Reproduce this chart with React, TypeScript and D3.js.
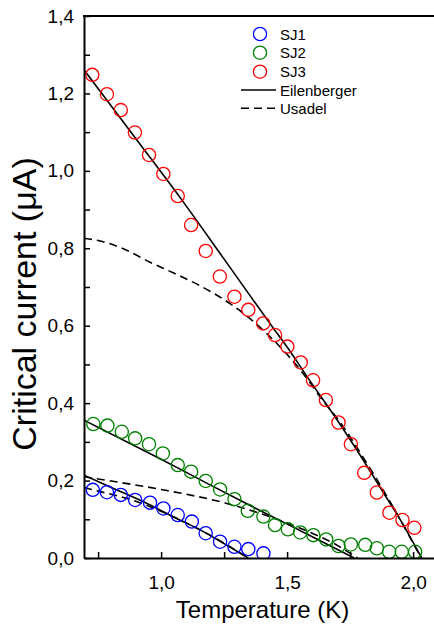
import React, { useRef, useEffect } from "react";
import * as d3 from "d3";

// measured points: [temperature (K), critical current (uA)]
const sj1 = [
  [0.729, 0.176], [0.785, 0.170], [0.840, 0.163], [0.897, 0.150], [0.956, 0.143],
  [1.009, 0.128], [1.066, 0.111], [1.122, 0.094], [1.177, 0.064], [1.234, 0.042],
  [1.291, 0.029], [1.346, 0.023], [1.406, 0.012],
];
const sj2 = [
  [0.731, 0.346], [0.787, 0.342], [0.844, 0.326], [0.897, 0.309], [0.952, 0.294],
  [1.007, 0.270], [1.066, 0.240], [1.119, 0.223], [1.177, 0.199], [1.234, 0.177],
  [1.291, 0.152], [1.344, 0.122], [1.406, 0.107], [1.452, 0.085], [1.503, 0.074],
  [1.552, 0.066], [1.604, 0.059], [1.655, 0.048], [1.704, 0.031], [1.753, 0.035],
  [1.810, 0.034], [1.856, 0.025], [1.905, 0.016], [1.955, 0.016], [2.008, 0.016],
];
const sj3 = [
  [0.670, 1.270], [0.727, 1.248], [0.785, 1.198], [0.840, 1.157], [0.896, 1.099],
  [0.952, 1.041], [1.009, 0.992], [1.066, 0.935], [1.119, 0.860], [1.177, 0.793],
  [1.233, 0.727], [1.291, 0.675], [1.346, 0.641], [1.405, 0.606], [1.452, 0.576],
  [1.501, 0.546], [1.554, 0.505], [1.603, 0.459], [1.654, 0.408], [1.704, 0.350],
  [1.753, 0.294], [1.806, 0.220], [1.856, 0.169], [1.906, 0.117], [1.958, 0.098],
  [2.005, 0.078],
];

// theory curves
const eil1 = [[0.694, 0.214], [0.80, 0.183], [0.956, 0.137], [1.05, 0.106], [1.177, 0.065], [1.25, 0.037], [1.346, 0]];
const eil2 = [[0.694, 0.356], [1.0, 0.255], [1.2, 0.187], [1.4, 0.12], [1.6, 0.055], [1.766, 0]];
const eil3 = [
  [0.694, 1.261], [0.9, 1.083], [1.082, 0.925], [1.25, 0.772], [1.446, 0.593], [1.5, 0.545],
  [1.588, 0.46], [1.7, 0.355], [1.8, 0.255], [1.9, 0.15], [1.95, 0.098], [2.034, 0],
];
const us1 = [[0.694, 0.182], [0.78, 0.168], [0.864, 0.154], [0.95, 0.134], [1.05, 0.106], [1.177, 0.065], [1.346, 0]];
const us2 = [[0.694, 0.210], [0.79, 0.200], [1.0, 0.177], [1.26, 0.141], [1.552, 0.077], [1.684, 0.038], [1.78, 0]];
const us3 = [
  [0.694, 0.826], [0.75, 0.820], [0.85, 0.799], [0.956, 0.764], [1.05, 0.736], [1.155, 0.703],
  [1.287, 0.651], [1.419, 0.58], [1.552, 0.486], [1.65, 0.40], [1.7, 0.36], [1.8, 0.262],
  [1.9, 0.155], [2.032, 0],
];

const yTicks = [0, 0.1, 0.2, 0.3, 0.4, 0.5, 0.6, 0.7, 0.8, 0.9, 1.0, 1.1, 1.2, 1.3, 1.4];
const xTicks = [0.75, 1.0, 1.25, 1.5, 1.75, 2.0];
const xLabels = [1.0, 1.5, 2.0];
const yLabels = [0, 0.2, 0.4, 0.6, 0.8, 1.0, 1.2, 1.4];

const seriesNames = ["SJ1", "SJ2", "SJ3"];
const seriesColors = ["#0000ff", "#008000", "#ff0000"];

const App = () => {
  const ref = useRef(null);

  useEffect(() => {
    const svgWidth = 434;
    const svgHeight = 624;
    const left = 84, top = 16, bottom = 558;
    const font = "'Liberation Sans', Arial, sans-serif";

    const svg = d3.select(ref.current)
      .attr("width", svgWidth)
      .attr("height", svgHeight);
    svg.selectAll("*").remove();

    const xScale = d3.scaleLinear().domain([0.694, 2.1]).range([left, left + 1.406 * 252]);
    const yScale = d3.scaleLinear().domain([0, 1.4]).range([bottom, top]);

    const fmt = (d) => d3.format(".1f")(d).replace(".", ",");

    svg.append("defs").append("clipPath").attr("id", "plotclip")
      .append("rect")
      .attr("x", left).attr("y", top - 2)
      .attr("width", svgWidth - left).attr("height", bottom - top + 2);

    const plot = svg.append("g").attr("clip-path", "url(#plotclip)");

    const line = d3.line()
      .x(d => xScale(d[0]))
      .y(d => yScale(d[1]))
      .curve(d3.curveMonotoneX);

    // Eilenberger (solid)
    [eil1, eil2, eil3].forEach(c => {
      plot.append("path").datum(c)
        .attr("fill", "none").attr("stroke", "#000").attr("stroke-width", 1.6)
        .attr("d", line);
    });
    // Usadel (dashed)
    [us1, us2, us3].forEach(c => {
      plot.append("path").datum(c)
        .attr("fill", "none").attr("stroke", "#000").attr("stroke-width", 1.6)
        .attr("stroke-dasharray", "8 5")
        .attr("d", line);
    });

    // data circles
    [sj1, sj2, sj3].forEach((s, i) => {
      plot.selectAll(".pt" + i).data(s).join("circle")
        .attr("class", "pt" + i)
        .attr("cx", d => xScale(d[0]))
        .attr("cy", d => yScale(d[1]))
        .attr("r", 6.6)
        .attr("fill", "none")
        .attr("stroke", seriesColors[i])
        .attr("stroke-width", 1.3);
    });

    // Y axis
    const yAxis = svg.append("g")
      .attr("transform", `translate(${left},0)`)
      .call(d3.axisLeft(yScale).tickValues(yTicks).tickSizeInner(-6).tickSizeOuter(0).tickPadding(10)
        .tickFormat(d => yLabels.some(v => Math.abs(v - d) < 1e-6) ? fmt(d) : ""));
    yAxis.select(".domain").attr("stroke-width", 2);
    yAxis.selectAll(".tick line").attr("stroke-width", 1.5);
    yAxis.selectAll("text").style("font-family", font).style("font-size", "19px").attr("fill", "#000");

    // X axis
    const xAxis = svg.append("g")
      .attr("transform", `translate(0,${bottom})`)
      .call(d3.axisBottom(xScale).tickValues(xTicks).tickSizeInner(-6).tickSizeOuter(0).tickPadding(18)
        .tickFormat(d => xLabels.some(v => Math.abs(v - d) < 1e-6) ? fmt(d) : ""));
    xAxis.select(".domain").attr("stroke-width", 2);
    xAxis.selectAll(".tick line").attr("stroke-width", 1.5);
    xAxis.selectAll("text").style("font-family", font).style("font-size", "19px").attr("fill", "#000");

    // top frame line
    svg.append("line")
      .attr("x1", left - 1).attr("x2", svgWidth)
      .attr("y1", top).attr("y2", top)
      .attr("stroke", "#000").attr("stroke-width", 2);

    // axis titles
    svg.append("text")
      .attr("x", 262.5).attr("y", 618)
      .attr("text-anchor", "middle")
      .style("font-family", font).style("font-size", "24px")
      .text("Temperature (K)");

    svg.append("text")
      .attr("transform", `translate(36,304) rotate(-90)`)
      .attr("text-anchor", "middle")
      .style("font-family", font).style("font-size", "34px")
      .text("Critical current (\u03BCA)");

    // legend
    const legend = svg.append("g").style("font-family", font).style("font-size", "15px");
    const rows = [34, 52.7, 71.7, 90, 108.3];
    seriesNames.forEach((name, i) => {
      legend.append("circle")
        .attr("cx", 260).attr("cy", rows[i]).attr("r", 6.6)
        .attr("fill", "none").attr("stroke", seriesColors[i]).attr("stroke-width", 1.3);
      legend.append("text").attr("x", 280).attr("y", rows[i] + 5.5).text(name);
    });
    legend.append("line")
      .attr("x1", 241).attr("x2", 276).attr("y1", rows[3]).attr("y2", rows[3])
      .attr("stroke", "#000").attr("stroke-width", 1.6);
    legend.append("text").attr("x", 280).attr("y", rows[3] + 5.5).text("Eilenberger");
    legend.append("line")
      .attr("x1", 241).attr("x2", 276).attr("y1", rows[4]).attr("y2", rows[4])
      .attr("stroke", "#000").attr("stroke-width", 1.6)
      .attr("stroke-dasharray", "8 5");
    legend.append("text").attr("x", 280).attr("y", rows[4] + 5.5).text("Usadel");
  }, []);

  return (
    <div style={{ position: "absolute", left: 0, top: 0 }}>
      <svg ref={ref} style={{ display: "block" }}></svg>
    </div>
  );
};

export default App;
